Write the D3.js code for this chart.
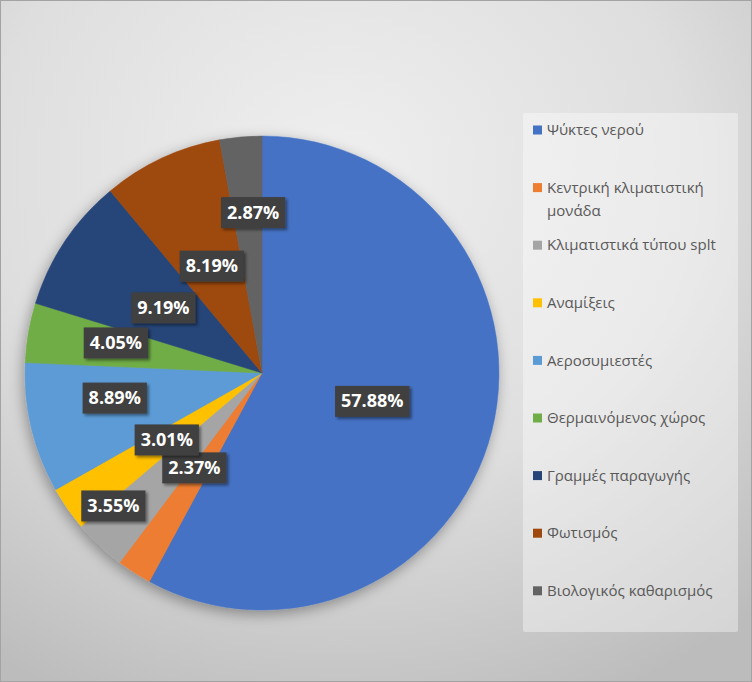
<!DOCTYPE html>
<html>
<head>
<meta charset="utf-8">
<script src="https://cdn.jsdelivr.net/npm/d3@7/dist/d3.min.js"></script>
<style>
  body { margin: 0; background: #fff; }
  svg { display: block; }
</style>
</head>
<body>
<svg id="chart" width="752" height="682"></svg>
<script>
// data (percent shares, clockwise from 12 o'clock)
var categories = ["Ψύκτες νερού", "Κεντρική κλιματιστική μονάδα", "Κλιματιστικά τύπου splt", "Αναμίξεις",
  "Αεροσυμιεστές", "Θερμαινόμενος χώρος", "Γραμμές παραγωγής", "Φωτισμός", "Βιολογικός καθαρισμός"];
var values = [57.88, 2.37, 3.55, 3.01, 8.89, 4.05, 9.19, 8.19, 2.87];
var colors = ["#4472C4", "#ED7D31", "#A5A5A5", "#FFC000", "#5B9BD5", "#70AD47", "#264478", "#9E480E", "#636363"];

var width = 752, height = 682;
var cx = 262, cy = 373, radius = 237;
// how far out each data label sits (fraction of radius) and a small turn in degrees, like Excel's best fit
var labelPos = [0.48, 0.49, 0.84, 0.49, 0.63, 0.63, 0.5, 0.5, 0.68];
var labelTurn = [0, 3, 5, 0, 4, 2, 0, 0, 2];

var svg = d3.select("#chart");
var defs = svg.append("defs");

// chart area background
var bg = defs.append("radialGradient").attr("id", "bg")
  .attr("cx", "45%").attr("cy", "25%").attr("r", "85%");
bg.append("stop").attr("offset", "0%").attr("stop-color", "#efefef");
bg.append("stop").attr("offset", "55%").attr("stop-color", "#dedede");
bg.append("stop").attr("offset", "100%").attr("stop-color", "#bcbcbc");

var pieShadow = defs.append("filter").attr("id", "pieShadow")
  .attr("x", "-20%").attr("y", "-20%").attr("width", "140%").attr("height", "140%");
pieShadow.append("feDropShadow").attr("dx", -2).attr("dy", 4)
  .attr("stdDeviation", 7).attr("flood-color", "#000").attr("flood-opacity", 0.35);

var boxShadow = defs.append("filter").attr("id", "boxShadow")
  .attr("x", "-20%").attr("y", "-30%").attr("width", "150%").attr("height", "170%");
boxShadow.append("feDropShadow").attr("dx", 2).attr("dy", 2)
  .attr("stdDeviation", 1.5).attr("flood-color", "#000").attr("flood-opacity", 0.45);

svg.append("rect").attr("x", 0.5).attr("y", 0.5)
  .attr("width", width - 1).attr("height", height - 1)
  .attr("fill", "url(#bg)").attr("stroke", "#a3a3a3");

// legend panel
svg.append("rect").attr("x", 523).attr("y", 113).attr("width", 215).attr("height", 519)
  .attr("rx", 2).attr("fill", "#ffffff").attr("fill-opacity", 0.38);

/* ----------------------- PIE -----------------------*/
var pie = d3.pie().sort(null).value(function(d) {return d;});
var arcs = pie(values);
var arc = d3.arc().innerRadius(0).outerRadius(radius);

var g = svg.append("g").attr("transform", "translate(" + cx + "," + cy + ")");

g.append("g").attr("filter", "url(#pieShadow)")
  .selectAll("path")
  .data(arcs)
  .enter().append("path")
    .attr("d", arc)
    .attr("fill", function(d, i) {return colors[i];})
    .attr("stroke", function(d, i) {return colors[i];})
    .attr("stroke-width", 0.5);

// data labels in dark boxes
var label = g.selectAll("g.lbl")
  .data(arcs)
  .enter().append("g")
    .attr("class", "lbl")
    .attr("transform", function(d, i) {
      var r = radius * labelPos[i];
      var a = (d.startAngle + d.endAngle) / 2 + labelTurn[i] * Math.PI / 180;
      return "translate(" + (r * Math.sin(a)) + "," + (-r * Math.cos(a)) + ")";
    });

label.append("rect").attr("fill", "#404040").attr("filter", "url(#boxShadow)");
label.append("text")
  .attr("text-anchor", "middle")
  .attr("dy", "0.36em")
  .attr("fill", "#fff")
  .style("font-family", "'Open Sans', sans-serif")
  .style("font-weight", "bold")
  .style("font-size", "18px")
  .text(function(d) {return d.data.toFixed(2) + "%";});

label.each(function() {
  var t = d3.select(this).select("text").node();
  var w = t.getComputedTextLength() + 12;
  d3.select(this).select("rect")
    .attr("x", -w / 2).attr("y", -15).attr("width", w).attr("height", 31);
});

/* ----------------------- LEGEND -----------------------*/
var legend = svg.append("g").selectAll("g")
  .data(categories)
  .enter().append("g")
    .attr("transform", function(d, i) {return "translate(533," + (130 + i * 57.6) + ")";});

legend.append("rect")
  .attr("x", 0).attr("y", -4.5).attr("width", 9).attr("height", 9)
  .attr("fill", function(d, i) {return colors[i];});

legend.append("text")
  .attr("x", 14)
  .attr("fill", "#595959")
  .style("font-family", "'Open Sans', sans-serif")
  .style("font-size", "15px")
  .each(function(d) {
    // wrap long names on two lines like the original
    var lines = d.length > 24 ? [d.slice(0, d.lastIndexOf(" ")), d.slice(d.lastIndexOf(" ") + 1)] : [d];
    var t = d3.select(this);
    lines.forEach(function(line, k) {
      t.append("tspan").attr("x", 14).attr("y", k * 23).attr("dy", "0.35em").text(line);
    });
  });
</script>
</body>
</html>
